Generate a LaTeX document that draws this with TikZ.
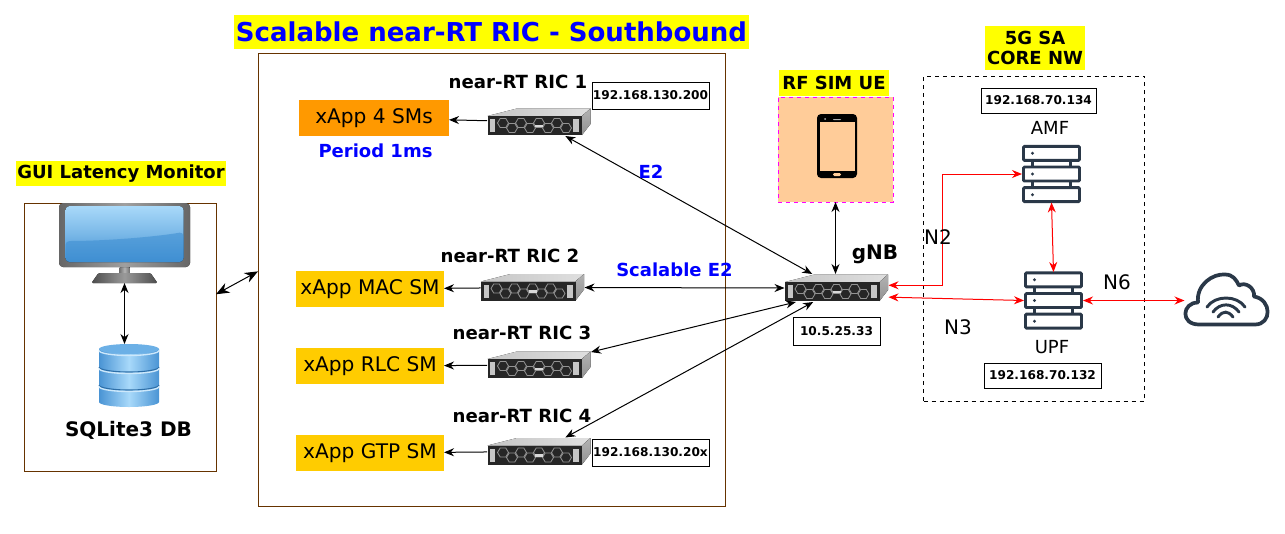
\documentclass[tikz,border=0pt]{standalone}
\usepackage{xcolor}
\usepackage{tikz}
\usepackage{fontspec}
\setmainfont{DejaVu Sans}
\usetikzlibrary{
    arrows.meta,
    positioning
}
\newcommand{\pxfont}[1]{\fontsize{#1}{#1}\selectfont}
\definecolor{framebrown}{HTML}{663300}
\definecolor{rackblue}{HTML}{2A3848}
\definecolor{peach}{HTML}{FFCC99}
\definecolor{tagyellow}{HTML}{FFFF00}
\definecolor{xappyellow}{HTML}{FFCC00}
\definecolor{xapporange}{HTML}{FF9900}
\definecolor{uemagenta}{HTML}{FF00FF}
\definecolor{screenlight}{HTML}{A9D9F9}
\definecolor{screendark}{HTML}{3F8FD2}
\definecolor{dbedge}{HTML}{4A94D4}
\definecolor{dbmid}{HTML}{A8D9FA}
\definecolor{dbtop}{HTML}{6CB0E6}
\definecolor{dbrim}{HTML}{CDE8FB}
\definecolor{dbline}{HTML}{2E6FA8}
\tikzset{
serverpic/.pic={
\fill[left color=gray!45, right color=gray!25] (-51.5,-6) -- (-22,-13.5) -- (51.5,-13.5) -- (43,-6) -- cycle;
\fill[top color=gray!60, bottom color=gray!85] (43,-6) -- (51.5,-13.5) -- (51.5,2) -- (43,13) -- cycle;
\fill[black!85] (-51.5,-6) rectangle (43,13);
\fill[gray!45] (-49,-3) rectangle (-44,10);
\fill[gray!45] (34,-3) rectangle (40,10);
\foreach \hx/\hy in {-36/1,-27/6,-18/1,-9/6,0/1,9/6,18/1,27/6}{
\draw[gray!85!white, line width=0.6pt] (\hx-5.5,\hy) -- ++(2.7,-4.5) -- ++(5.6,0) -- ++(2.7,4.5) -- ++(-2.7,4.5) -- ++(-5.6,0) -- cycle;
}
\fill[gray!30] (-4,2.5) rectangle (4,5);
},
rackpic/.pic={
\foreach \rowy in {-20.7,0,20.7}{
\draw[rackblue, line width=2.2pt, fill=white, rounded corners=0.8pt] (-28,\rowy-7) rectangle (28,\rowy+7);
\fill[rackblue] (-19,\rowy) circle (1.6);
}
\foreach \stubx in {-19,19}{
\draw[rackblue, line width=1.6pt] (\stubx,-13.7) -- (\stubx,-7);
\draw[rackblue, line width=1.6pt] (\stubx,7) -- (\stubx,13.7);
}
},
cloudpic/.pic={
\draw[rackblue, line width=2.8pt, line join=round]
(-28,25) .. controls (-47,25) and (-45,3) .. (-29,3)
.. controls (-31,-15) and (-14,-26) .. (-2,-25)
.. controls (6,-25) and (9,-20) .. (12,-14)
.. controls (18,-18) and (28,-12) .. (27,-3)
.. controls (45,0) and (45,25) .. (28,25) -- cycle;
\draw[rackblue, line width=2.2pt, line cap=round] (-20,7.5) .. controls (-12,-4.5) and (10,-4.5) .. (18,7.5);
\draw[rackblue, line width=2.2pt, line cap=round] (-14,12.5) .. controls (-7,3) and (5,3) .. (12,12.5);
\draw[rackblue, line width=2.2pt, line cap=round] (-9,17.5) .. controls (-4,11) and (1,11) .. (6,17.5);
},
phonepic/.pic={
\fill[black, rounded corners=3pt] (-20,-32) rectangle (20,32);
\fill[peach] (-17,-24) rectangle (18,25);
\fill[gray!60, rounded corners=0.5pt] (0,-25) ++(-4,-2) rectangle ++(8,1);
\fill[gray!60] (-12,-27) circle (1);
\fill[peach, rounded corners=1pt] (-4,27) rectangle (4,30);
},
monitorpic/.pic={
\fill[left color=gray!90!black, right color=gray!90!black, middle color=gray!60] (-5,24) rectangle (5,31);
\fill[left color=black!70, right color=black!70, middle color=gray!80, rounded corners=1pt] (-33,40) -- (-26,30) -- (26,30) -- (33,40) -- cycle;
\fill[left color=gray!80!black, right color=gray!80!black, middle color=gray!75, rounded corners=3pt] (-65.5,-40) rectangle (65.5,24);
\fill[top color=screenlight, bottom color=screendark, middle color=screenlight!55!screendark, rounded corners=3pt] (-59,-37) rectangle (59,19);
\fill[screendark, opacity=0.6, rounded corners=3pt] (-59,-2) .. controls (-20,-2) and (30,-6) .. (59,-11) -- (59,19) -- (-59,19) -- cycle;
},
dbpic/.pic={
\shade[left color=dbedge, right color=dbedge, middle color=dbmid] (-30,-26.5) -- (-30,26.5) arc[start angle=180, end angle=0, x radius=30, y radius=5] -- (30,-26.5) -- cycle;
\fill[dbtop] (0,-26.5) ellipse (30 and 5);
\draw[dbrim, line width=1pt] (-30,-25) arc[start angle=180, end angle=0, x radius=30, y radius=5];
\draw[dbline, line width=0.8pt] (-30,-8.5) arc[start angle=180, end angle=0, x radius=30, y radius=5];
\draw[dbrim, line width=1pt] (-30,-7) arc[start angle=180, end angle=0, x radius=30, y radius=5];
\draw[dbline, line width=0.8pt] (-30,9.5) arc[start angle=180, end angle=0, x radius=30, y radius=5];
\draw[dbrim, line width=1pt] (-30,11) arc[start angle=180, end angle=0, x radius=30, y radius=5];
},
}
\begin{document}
\begin{tikzpicture}[
x=0.75pt,
y=-0.75pt,
>={Stealth[length=7.5pt,width=6pt]},
every node/.style={inner sep=0pt, outer sep=0pt},
frame/.style={draw=framebrown, line width=0.75pt},
xapp/.style={fill=#1, minimum width=148*0.75pt, minimum height=36*0.75pt, font=\pxfont{15.1}},
ipbox/.style={draw, fill=white, line width=0.75pt, font=\bfseries\pxfont{9.1}, minimum height=27*0.75pt},
serverbox/.style={minimum width=104*0.75pt, minimum height=28*0.75pt},
rackbox/.style={minimum width=59*0.75pt, minimum height=57*0.75pt},
ricname/.style={font=\bfseries\pxfont{13.6}},
tag/.style={fill=tagyellow, font=\bfseries},
bluetext/.style={text=blue, font=\bfseries\pxfont{13.5}},
plain/.style={font=\pxfont{15}},
link/.style={<->, line width=0.75pt},
redlink/.style={<->, red, line width=0.75pt}
]
\useasboundingbox (0,0) rectangle (1285,533);

% frames
\node[frame, minimum width=192*0.75pt, minimum height=268*0.75pt] (gui) at (120,337) {};
\node[frame, minimum width=467*0.75pt, minimum height=453*0.75pt] (ricframe) at (491.5,279.5) {};
\node[draw, dashed, line width=0.75pt, minimum width=221*0.75pt, minimum height=325*0.75pt] (core) at (1034,238.5) {};
\node[draw=uemagenta, dashed, fill=peach, line width=0.75pt, minimum width=115*0.75pt, minimum height=105*0.75pt] (ue) at (835.5,149.5) {};

% titles
\node[tag, text=blue, font=\bfseries\pxfont{19.5}, minimum width=515*0.75pt, minimum height=34*0.75pt] (title) at (491.5,32) {Scalable near-RT RIC - Southbound};
\node[tag, font=\bfseries\pxfont{13.5}, minimum width=210*0.75pt, minimum height=25*0.75pt] (guititle) at (121,173.5) {GUI Latency Monitor};
\node[tag, font=\bfseries\pxfont{13.5}, minimum width=110*0.75pt, minimum height=26*0.75pt] (uetitle) at (834,83) {RF SIM UE};
\node[tag, font=\bfseries\pxfont{13.5}, align=center, minimum width=100*0.75pt, minimum height=44*0.75pt] (coretitle) at (1035,48) {5G SA\\[1pt]CORE NW};

% xApps
\node[xapp=xapporange, minimum width=150*0.75pt] (xapp4) at (374,118) {xApp 4 SMs};
\node[xapp=xappyellow] (xappmac) at (370,289) {xApp MAC SM};
\node[xapp=xappyellow] (xapprlc) at (370,366) {xApp RLC SM};
\node[xapp=xappyellow] (xappgtp) at (370,453) {xApp GTP SM};
\node[bluetext] (period) at (375.5,150.5) {Period 1ms};

% near-RT RIC servers
\node[serverbox] (ric1) at (539,122) {};
\node[serverbox] (ric2) at (532.5,287.5) {};
\node[serverbox] (ric3) at (539,365) {};
\node[serverbox] (ric4) at (539,451.5) {};
\node[serverbox] (gnb) at (836.5,288) {};
\pic at (ric1) {serverpic};
\pic at (ric2) {serverpic};
\pic at (ric3) {serverpic};
\pic at (ric4) {serverpic};
\pic at (gnb) {serverpic};
\node[ricname] (ric1name) at (518,82) {near-RT RIC 1};
\node[ricname] (ric2name) at (510,256) {near-RT RIC 2};
\node[ricname] (ric3name) at (522,333) {near-RT RIC 3};
\node[ricname] (ric4name) at (522,416) {near-RT RIC 4};
\node[ricname, font=\bfseries\pxfont{15}] (gnbname) at (875,254) {gNB};

% addresses
\node[ipbox, minimum width=117*0.75pt] (ip1) at (650.5,95.5) {192.168.130.200};
\node[ipbox, minimum width=117*0.75pt] (ip4) at (650.5,452.5) {192.168.130.20x};
\node[ipbox, minimum width=87*0.75pt, minimum height=28*0.75pt] (ipgnb) at (836.5,331) {10.5.25.33};
\node[ipbox, minimum width=115*0.75pt, minimum height=25*0.75pt] (ipamf) at (1038.5,100.5) {192.168.70.134};
\node[ipbox, minimum width=117*0.75pt, minimum height=25*0.75pt] (ipupf) at (1042.5,375.5) {192.168.70.132};

% icons
\node[minimum width=131*0.75pt, minimum height=80*0.75pt] (monitor) at (124.5,243) {};
\node[minimum width=60*0.75pt, minimum height=63*0.75pt] (db) at (129,375.5) {};
\pic at (monitor) {monitorpic};
\pic at (db) {dbpic};
\node[font=\bfseries\pxfont{15}] (dbname) at (128.5,430) {SQLite3 DB};
\node[minimum width=40*0.75pt, minimum height=64*0.75pt] (phone) at (837,146) {};
\pic at (phone) {phonepic};
\node[rackbox] (amf) at (1051.5,174) {};
\node[rackbox] (upf) at (1053.5,300.5) {};
\pic at (amf) {rackpic};
\pic at (upf) {rackpic};
\node[plain, font=\pxfont{13.5}] (amfname) at (1050,128) {AMF};
\node[plain, font=\pxfont{13.5}] (upfname) at (1052,347) {UPF};
\node[minimum width=85*0.75pt, minimum height=53*0.75pt] (cloud) at (1227,299.5) {};
\pic at (cloud) {cloudpic};

% black links
\draw[link] (monitor.south) -- (monitor.south |- db.north);
\draw[link, >={Stealth[length=10pt,width=8pt]}] (gui.24.6) -- (ricframe.178.9);
\draw[->, line width=0.75pt] (ric1) -- (xapp4);
\draw[->, line width=0.75pt] (ric2) -- (xappmac);
\draw[->, line width=0.75pt] (ric3) -- (xapprlc);
\draw[->, line width=0.75pt] (ric4) -- (xappgtp);
\draw[link] (ric1.-28) -- node[bluetext, pos=0.35, xshift=-0.5pt, yshift=9pt] (e2label) {E2} (gnb.150);
\draw[link] (ric2.east) -- node[bluetext, pos=0.45, yshift=13.5pt] (scalablelabel) {Scalable E2} (gnb.west);
\draw[link] (ric3.14) -- (gnb.199);
\draw[link] (ric4.28) -- (gnb.211.5);
\draw[link] (ue.south) -- (ue.south |- gnb.north);

% red links
\draw[redlink] (gnb.3) -- ++(54,0) |- (amf.west);
\draw[redlink] (gnb.-10.6) -- (upf.west);
\draw[redlink] (amf.south) -- (upf.north);
\draw[redlink] (upf.east) -- (cloud.west |- upf.east);
\node[plain] (n2label) at (938,237) {N2};
\node[plain] (n3label) at (958,327) {N3};
\node[plain] (n6label) at (1117,282) {N6};
\end{tikzpicture}
\end{document}
